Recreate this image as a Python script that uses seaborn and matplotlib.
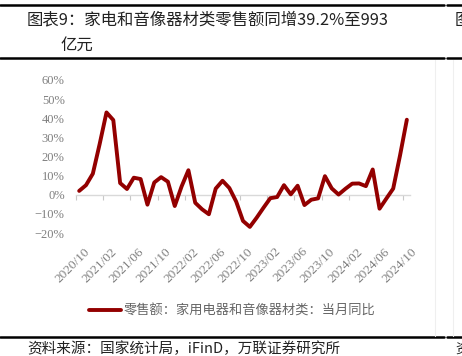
import numpy as np
import pandas as pd
import seaborn as sns
import matplotlib.pyplot as plt
from matplotlib.lines import Line2D
from matplotlib.transforms import ScaledTranslation

# Monthly data, 2020/10 .. 2024/10
months = pd.period_range('2020-10', '2024-10', freq='M').strftime('%Y/%m').tolist()
yoy = [2.0, 5.0, 11.0, 26.5, 43.0, 39.0, 6.1, 3.0, 8.9, 8.2,
       -5.2, 6.4, 9.2, 6.8, -5.9, 4.3, 12.8, -4.2, -7.6, -10.2,
       3.2, 7.3, 3.5, -3.6, -13.7, -16.8, -12.0, -6.8, -1.8, -1.2,
       5.0, 0.2, 4.7, -5.4, -2.6, -1.9, 9.7, 3.3, 0.1, 3.1,
       5.8, 5.9, 4.5, 13.2, -7.3, -2.0, 3.2, 20.5, 39.2]
series_name = '零售额：家用电器和音像器材类：当月同比'
title_1 = '图表9：家电和音像器材类零售额同增39.2%至993'
title_2 = '亿元'
source = '资料来源：国家统计局，iFinD，万联证券研究所'
yticks = list(range(-20, 61, 10))

df = pd.DataFrame({'idx': np.arange(len(months)), 'yoy': yoy, 'month': months})

sns.set_theme(style='white')
plt.rcParams['font.family'] = ['Noto Sans CJK SC', 'DejaVu Sans']

W, H = 462, 356
fig = plt.figure(figsize=(W / 100, H / 100), dpi=100)
ax = fig.add_axes([0.164, 0.3455, 0.724, 0.430])

sns.lineplot(data=df, x='idx', y='yoy', ax=ax, color='#930000', lw=2.8,
             label=series_name)

ax.set_xlim(-0.5, len(months) - 0.5)
ax.set_ylim(-20, 60)
for s in ax.spines.values():
    s.set_visible(False)
ax.set_xlabel('')
ax.set_ylabel('')

# y axis
ax.set_yticks(yticks)
ax.set_yticklabels([f'{v}%'.replace('-', '−') for v in yticks],
                   family='Liberation Serif', fontsize=9, color='#808080')
ax.tick_params(axis='y', length=0, pad=8)

# x labels at category centres, along the bottom
ax.set_xticks(df['idx'][::4])
ax.set_xticklabels(df['month'][::4], family='Liberation Serif', fontsize=9.5,
                   color='#808080', rotation=45, ha='right', va='top',
                   rotation_mode='anchor')
ax.tick_params(axis='x', length=0, pad=9)
for lab in ax.get_xticklabels():
    lab.set_transform(lab.get_transform() + ScaledTranslation(3 / 72, 0, fig.dpi_scale_trans))

# zero line with tick marks between categories
zero = ax.secondary_xaxis((0 - (-20)) / 80)
zero.set_xticks(np.arange(-0.5, len(months), 4))
zero.tick_params(axis='x', length=3.5, width=0.8, color='#C8C8C8', labelbottom=False,
                 direction='out')
zero.spines['bottom'].set_color('#D9D9D9')
zero.spines['bottom'].set_linewidth(1.0)
for k in ['top', 'left', 'right']:
    zero.spines[k].set_visible(False)

leg = ax.legend(loc='center', bbox_to_anchor=(0.503, 0.126),
                bbox_transform=fig.transFigure, frameon=False, fontsize=9.5,
                handlelength=2.4, handletextpad=0.2, borderpad=0)
for t in leg.get_texts():
    t.set_color('#666666')

# title, source and table rules
fig.text(27 / W, 1 - 20 / H, title_1, fontsize=11.8, color='#222222', va='center')
fig.text(60 / W, 1 - 45 / H, title_2, fontsize=11.8, color='#222222', va='center')
fig.text(27 / W, 1 - 349 / H, source, fontsize=10.5, color='#222222', va='center',
         style='italic')
# start of the neighbouring panel, cut by the edge as in the source page
fig.text(455 / W, 1 - 20 / H, '图', fontsize=12, color='#222222', va='center')
fig.text(455 / W, 1 - 349 / H, '资', fontsize=10, color='#222222', va='center')

for y in (5, 58, 337):
    yy = 1 - y / H
    fig.add_artist(Line2D([0, 444 / W], [yy, yy], color='black', lw=1.8))
    fig.add_artist(Line2D([447 / W, 1], [yy, yy], color='black', lw=1.8))
for x in (435, 453):
    fig.add_artist(Line2D([x / W, x / W], [1 - 60 / H, 1 - 336 / H],
                          color='#EFEFEF', lw=0.8))

fig.savefig('out.png', dpi=100)
